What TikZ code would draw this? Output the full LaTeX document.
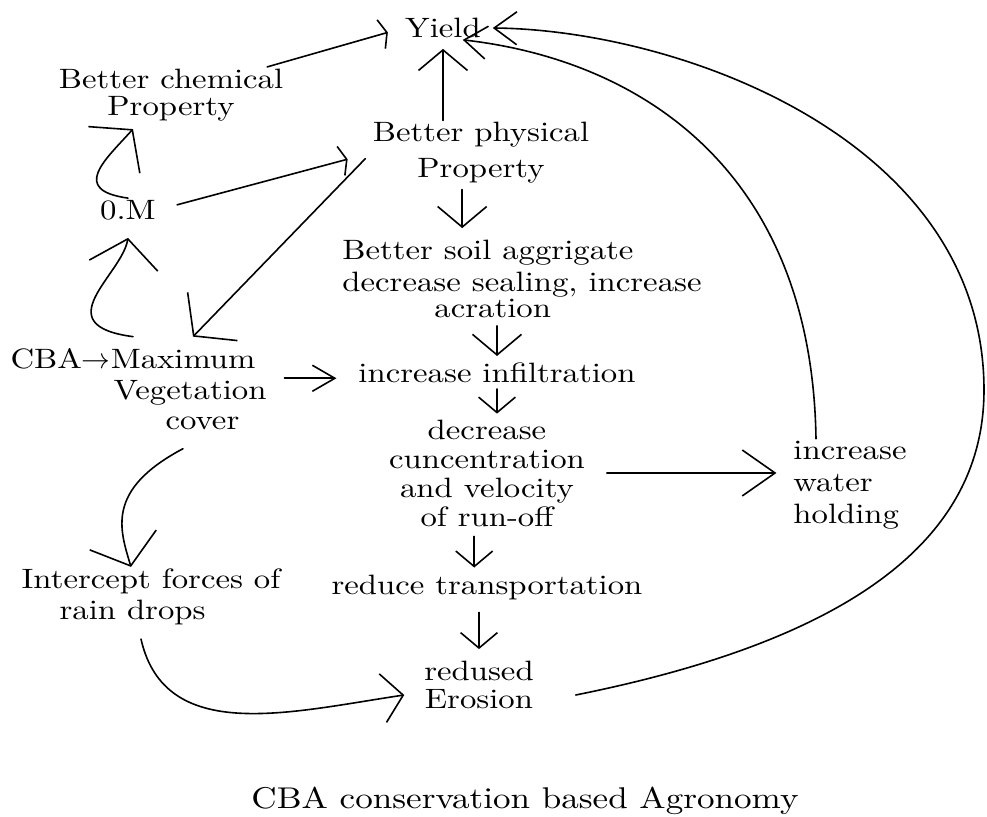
\documentclass[tikz,border=0pt]{standalone}
\usepackage{fontspec}
\setmainfont{lmroman10-regular.otf}[FakeStretch=1.17]
\usepackage{tikz}
\usetikzlibrary{arrows.meta}
\tikzstyle{Node}=[inner sep=1pt,outer sep=0pt,align=center,
font=\fontsize{14}{15}\selectfont]
\tikzstyle{Edge}=[draw=black,line width=0.8pt,line cap=round]
\tikzstyle{EdgeBig}=[Edge,-{Straight Barb[angle=104:22pt]}]
\tikzstyle{EdgeMid}=[Edge,-{Straight Barb[angle=100:16pt]}]
\tikzstyle{EdgeSmall}=[Edge,-{Straight Barb[angle=100:12pt]}]
\tikzstyle{EdgeLong}=[Edge,-{Straight Barb[angle=70:20pt]}]
\tikzstyle{EdgeCurve}=[Edge,-{Straight Barb[angle=72:14pt]}]
\tikzstyle{EdgeThin}=[Edge,-{Straight Barb[angle=60:13pt]}]
\tikzstyle{EdgeBar}=[Edge,-{Straight Barb[length=3pt,width=15pt]}]

\begin{document}
\begin{tikzpicture}[x=0.5pt,y=-0.5pt]
        \useasboundingbox(0,0)rectangle(987,817);
        \node[Node](Y)at(443,28){Yield};
        \node[Node](Bc)at(171,95){Better chemical\\[-1.5pt]Property};
        \node[Node](Bp)at(481,153){Better physical\\[3pt]Property};
        \node[Node](OM)at(128,210){0.M};
        \node[Node,align=left](Bs)at(522,279){Better soil aggrigate\\[1pt]
            decrease sealing, increase\\[-2pt]\hspace*{46pt}acration};
        \node[Node](CBA)at(133,359){CBA$\rightarrow$Maximum};
        \node[Node,align=left](Veg)at(190,405){Vegetation\\\hspace*{26pt}cover};
        \node[Node](Inf)at(497,373){increase infiltration};
        \node[Node](Dec)at(487,473){decrease\\[-0.5pt]cuncentration\\[-0.5pt]
            and velocity\\[-0.5pt]of run-off};
        \node[Node,align=left](Wat)at(850,485){increase\\[1pt]water\\[1pt]holding};
        \node[Node,align=left](Int)at(151,597)
            {Intercept forces of\\[0.5pt]\hspace*{19pt}rain drops};
        \node[Node](Tr)at(487,588){reduce transportation};
        \node[Node](Er)at(479,685){redused\\[-1pt]Erosion};
        \node[Node,font=\fontsize{15}{16}\selectfont](Cap)at(525,801)
            {CBA conservation based Agronomy};
        \draw[EdgeBar,shorten >=8pt]([xshift=-9pt]Bc.north east)--(Y.west);
        \draw[EdgeMid,shorten >=4.5pt](Bp.north -| Y.south)--(Y.south);
        \draw[EdgeCurve]([xshift=-17pt]Wat.north)..controls(812,170)and(640,60)
            ..([xshift=-10pt]Y.south east);
        \draw[EdgeCurve]([shift={(20pt,-5pt)}]Er.east)..controls(850,640)and(984,540)
            ..(984,390)..controls(984,140)and(680,30)..([xshift=5pt]Y.east);
        \draw[EdgeBig](OM.north)..controls(70,190)and(105,160)
            ..([shift={(-19pt,-3pt)}]Bc.south);
        \draw[EdgeBar,shorten <=10pt,shorten >=12pt](OM.east)--(Bp.west);
        \draw[EdgeBig,shorten <=4pt](Bp.west)--([shift={(30pt,5pt)}]CBA.north);
        \draw[EdgeBig]([yshift=5pt]CBA.north)..controls(45,325)and(122,275)
            ..([yshift=-8pt]OM.south);
        \draw[EdgeMid,shorten <=2pt,shorten >=5pt](Bp.240)--(Bp.240 |- Bs.north);
        \draw[EdgeMid,shorten <=3pt,shorten >=2.5pt](Bs.south -| Inf.north)--(Inf.north);
        \draw[EdgeThin,shorten <=8pt,shorten >=10pt](Veg.north east)
            --(Veg.north east -| Inf.west);
        \draw[EdgeSmall,shorten <=2pt,shorten >=2pt](Inf.south)--(Inf.south |- Dec.north);
        \draw[EdgeLong,shorten <=10pt,shorten >=7.5pt](Dec.east)--(Dec.east -| Wat.west);
        \draw[EdgeSmall,shorten <=4pt,shorten >=3pt](Dec.257)--(Dec.257 |- Tr.north);
        \draw[EdgeSmall,shorten <=5pt,shorten >=5pt](Er.north |- Tr.south)--(Er.north);
        \draw[EdgeBig]([shift={(-3.5pt,-8.5pt)}]Veg.south)..controls(105,490)and(120,530)
            ..([xshift=-10pt]Int.north);
        \draw[EdgeMid]([shift={(-5pt,-6pt)}]Int.south)..controls(165,745)and(290,712)
            ..([shift={(-9pt,-5pt)}]Er.west);
    \end{tikzpicture}
\end{document}
